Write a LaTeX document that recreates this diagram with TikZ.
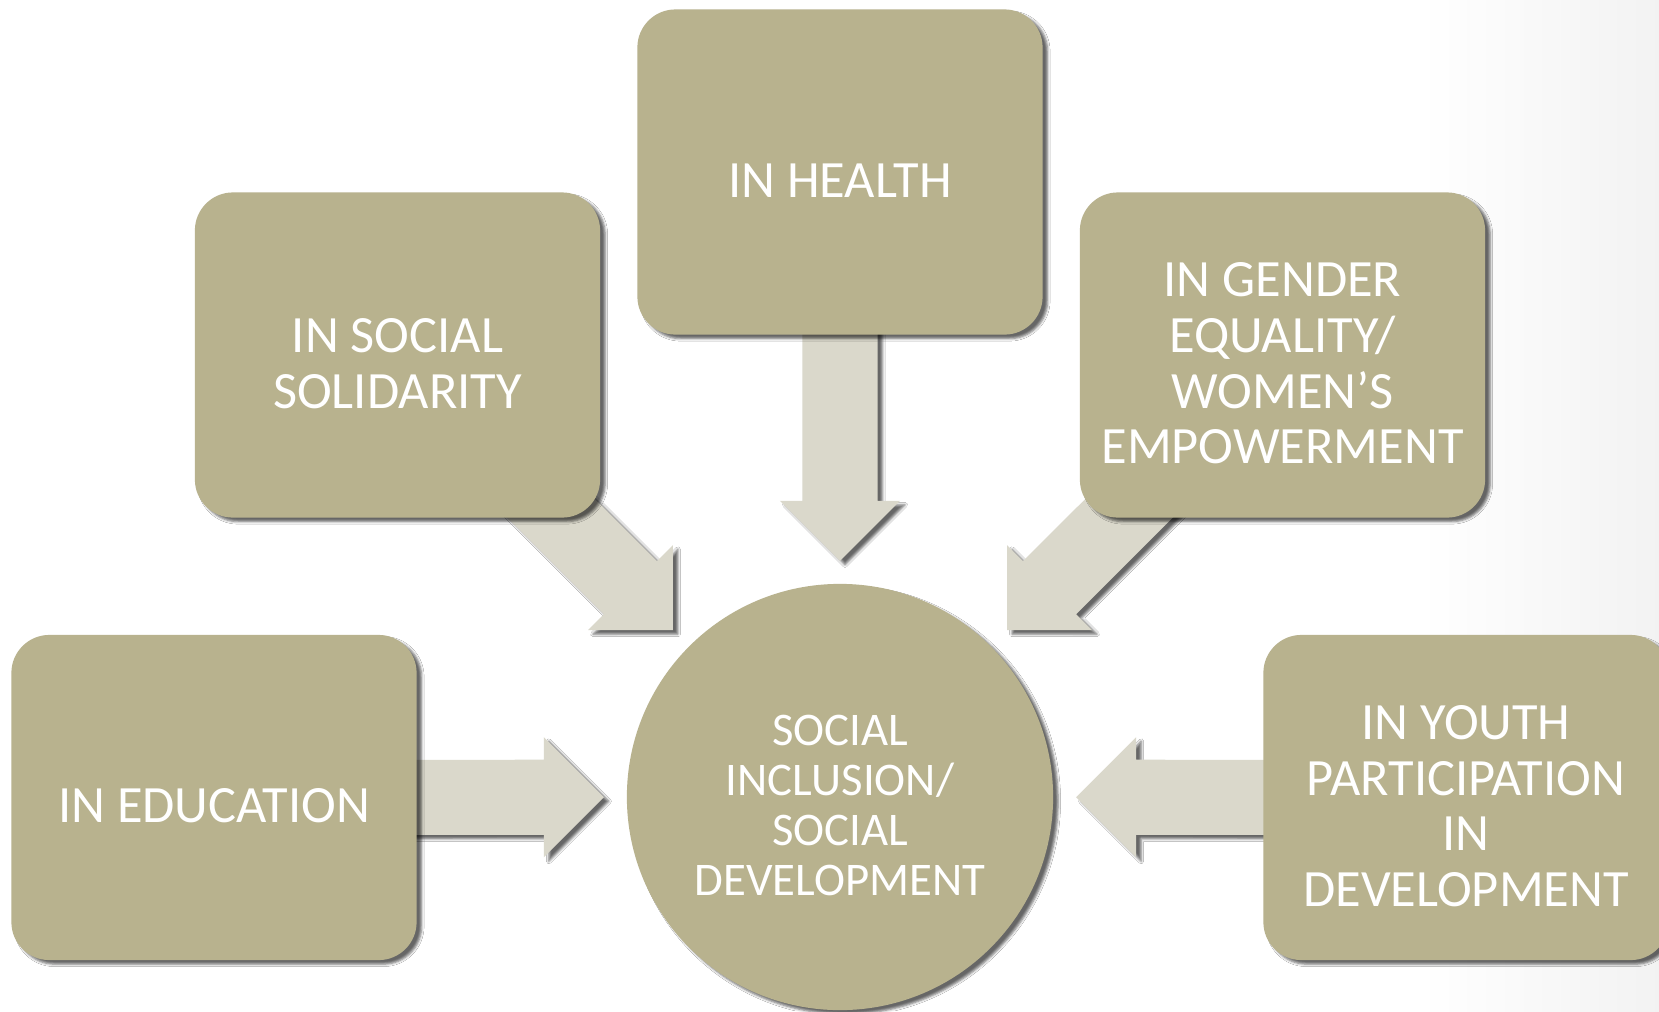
\documentclass[tikz,border=0pt]{standalone}
\usepackage{fontspec}
\setmainfont{Carlito}
\usetikzlibrary{calc,shadows.blur,backgrounds}
\definecolor{khaki}{HTML}{B8B28E}
\definecolor{paleflow}{HTML}{DAD8CB}

\begin{document}
\begin{tikzpicture} [
                x=0.01cm, y=-0.01cm,
                soft shadow/.style = {blur shadow={shadow xshift=0.05cm, shadow yshift=-0.04cm,
                        shadow blur radius=0.025cm, shadow opacity=60}},
                caption/.style = {text=white, align=center, yshift=-0.085cm},
                area/.style = {rectangle, rounded corners=0.38cm, fill=khaki, soft shadow,
                        minimum width=4.05cm, minimum height=3.25cm, inner sep=0pt,
                        label={[caption, font=\fontsize{14.9pt}{15.8pt}\selectfont]center:#1}},
                core/.style = {circle, fill=khaki, soft shadow, minimum size=4.26cm, inner sep=0pt,
                        label={[caption, font=\fontsize{13.3pt}{14.2pt}\selectfont]center:#1}},
                flow/.style = {fill=paleflow, soft shadow},
            ]
            \useasboundingbox (0,0) rectangle (1659,1011);
            % First we draw the areas round the centre
            \foreach \pos/\name/\text in {
                    {(214,797.5)/edu/IN EDUCATION},
                    {(397.5,355)/sol/{IN SOCIAL\\SOLIDARITY}},
                    {(840,172)/health/IN HEALTH},
                    {(1282.5,355)/gender/{IN GENDER\\EQUALITY/\\WOMEN’S\\EMPOWERMENT}},
                    {(1466,797.5)/youth/{IN YOUTH\\PARTICIPATION\\IN\\DEVELOPMENT}}}
                \node[area={\text}] (\name) at \pos {};
            \node[core={SOCIAL\\INCLUSION/\\SOCIAL\\DEVELOPMENT}] (core) at (840,797) {};
            % Block arrows from every area to the centre
            \begin{scope}[on background layer]
                \fill[white] (0,0) rectangle (1659,1011);
                \shade[left color=white, right color=black!5] (1420,0) rectangle (1659,1011);
                \foreach \source in {edu, sol, health, gender, youth} {
                    \coordinate (tip) at ($(core.center)!2.36cm!(\source.center)$);
                    \coordinate (base) at ($(tip)!6mm!(\source.center)$);
                    \path[flow] ($(\source.center)!3.75mm!90:(tip)$)
                        -- ($(base)!3.75mm!-90:(\source.center)$)
                        -- ($(base)!6mm!-90:(\source.center)$)
                        -- (tip)
                        -- ($(base)!6mm!90:(\source.center)$)
                        -- ($(base)!3.75mm!90:(\source.center)$)
                        -- ($(\source.center)!3.75mm!-90:(tip)$) -- cycle;
                }
            \end{scope}
        \end{tikzpicture}
\end{document}
